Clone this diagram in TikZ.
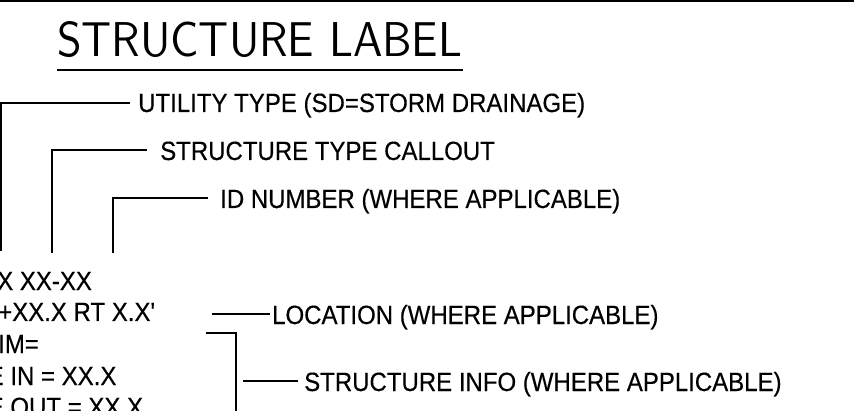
\documentclass[tikz,border=0pt]{standalone}
\usepackage{fontspec}
\setmainfont{Liberation Sans}[Ligatures=TeXOff, FakeBold=0.4]
\usepackage{graphicx}
\newcommand{\lbltxt}[1]{\scalebox{1}[1.1]{#1}}
\begin{document}
\begin{tikzpicture}[x=1pt,y=1pt,
  lbl/.style={inner sep=0pt, anchor=base west, font=\fontsize{24pt}{24pt}\selectfont},
  leader/.style={line width=2pt, line cap=butt},
  titlefont/.style={inner sep=0pt, anchor=south west}]
\useasboundingbox (0,0) rectangle (854,410);
\clip (0,0) rectangle (854,410);
\fill[white] (0,0) rectangle (854,410);
% top border
\coordinate (tbL) at (0,409.2);
\coordinate (tbR) at (854,409.2);
\draw[line width=1.8pt] (tbL) -- (tbR);
% title
\node[titlefont] (title) at (57,352) {\resizebox{405pt}{35pt}{\sffamily STRUCTURE LABEL}};
\coordinate (ulL) at (57,340);
\coordinate (ulR) at (463,340);
\draw[line width=2.6pt] (ulL) -- (ulR);
% label text lines (cut at left edge)
\node[lbl] (l1) at (-3,120) {\lbltxt{X XX-XX}};
\node[lbl] (l2) at (-2,89) {\lbltxt{+XX.X RT X.X'}};
\node[lbl] (l3) at (-2,57) {\lbltxt{IM=}};
\node[lbl] (l4) at (-12.5,25) {\lbltxt{E IN = XX.X}};
\node[lbl] (l5) at (-12.5,-6) {\lbltxt{E OUT = XX.X}};
% descriptions
\node[lbl] (utype) at (138,298) {\lbltxt{UTILITY TYPE (SD=STORM DRAINAGE)}};
\node[lbl] (stype) at (160,250) {\lbltxt{STRUCTURE TYPE CALLOUT}};
\node[lbl] (idnum) at (220,202) {\lbltxt{ID NUMBER (WHERE APPLICABLE)}};
\node[lbl] (loc) at (272,86) {\lbltxt{LOCATION (WHERE APPLICABLE)}};
\node[lbl] (sinfo) at (304,19) {\lbltxt{STRUCTURE INFO (WHERE APPLICABLE)}};
% leader coordinates
\coordinate (a1) at (1,159);
\coordinate (a2) at (130,307);
\coordinate (b1) at (52,157);
\coordinate (b2) at (147,260);
\coordinate (c1) at (113,157);
\coordinate (c2) at (208,212);
\coordinate (d1) at (212,96);
\coordinate (d2) at (270,96);
\coordinate (e1) at (206,77);
\coordinate (e2) at (236,-5);
\coordinate (f1) at (243,29);
\coordinate (f2) at (298,29);
% leaders
\draw[leader] (a1) |- (a2);
\draw[leader] (b1) |- (b2);
\draw[leader] (c1) |- (c2);
\draw[leader] (d1) -- (d2);
\draw[leader] (e1) -| (e2);
\draw[leader] (f1) -- (f2);
\end{tikzpicture}
\end{document}
